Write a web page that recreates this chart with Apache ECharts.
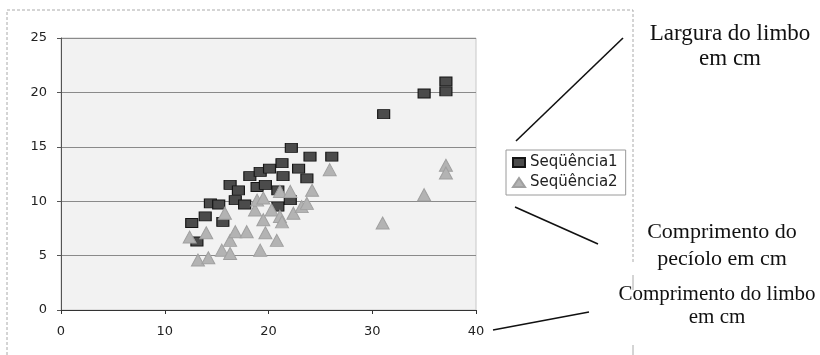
<!DOCTYPE html>
<html><head><meta charset="utf-8">
<script src="https://cdn.jsdelivr.net/npm/echarts@6/dist/echarts.min.js"></script>
<style>html,body{margin:0;padding:0;background:#fff}#c{width:820px;height:355px}</style>
</head><body><div id="c"></div>
<script>
var seriesNames = ['Seqüência1', 'Seqüência2'];
var xTicks = [0, 10, 20, 30, 40];
var yTicks = [0, 5, 10, 15, 20, 25];
var seq1X = [12.6, 13.1, 13.9, 14.4, 15.2, 15.6, 16.3, 16.8, 17.1, 17.7, 18.2, 18.9, 19.2, 19.7, 20.1, 20.9, 20.9, 21.3, 21.4, 22.1, 22.2, 22.9, 23.7, 24.0, 26.1, 31.1, 35.0, 37.1, 37.1];
var seq1Y = [8.0, 6.3, 8.6, 9.8, 9.7, 8.1, 11.5, 10.1, 11.0, 9.7, 12.3, 11.3, 12.7, 11.5, 13.0, 11.0, 9.5, 13.5, 12.3, 10.1, 14.9, 13.0, 12.1, 14.1, 14.1, 18.0, 19.9, 21.0, 20.1];
var seq2X = [12.4, 13.2, 14.0, 14.2, 15.5, 15.8, 16.3, 16.3, 16.8, 17.9, 18.7, 18.9, 19.2, 19.5, 19.5, 19.7, 20.3, 20.8, 21.1, 21.1, 21.3, 22.1, 22.4, 23.2, 23.7, 24.2, 25.9, 31.0, 35.0, 37.1, 37.1];
var seq2Y = [6.7, 4.6, 7.1, 4.8, 5.5, 8.9, 6.4, 5.2, 7.2, 7.2, 9.2, 10.1, 5.5, 10.3, 8.3, 7.1, 9.2, 6.4, 10.9, 8.6, 8.1, 10.9, 8.9, 9.5, 9.8, 11.0, 12.9, 8.0, 10.6, 13.3, 12.6];
var notes = [['Largura do limbo', 'em cm'], ['Comprimento do', 'pecíolo em cm'], ['Comprimento do limbo', 'em cm']];

function pairs(xs, ys) { return xs.map(function (x, i) { return [x, ys[i]]; }); }

var chart = echarts.init(document.getElementById('c'), null, { renderer: 'canvas' });
var serifFont = '"Liberation Serif", "Times New Roman", serif';
var sansFont = '"DejaVu Sans", Arial, sans-serif';
function note(i, cx, y, size, lh) {
  return { type: 'text', position: [cx, y],
    style: { text: notes[i][0] + '\n' + notes[i][1], textAlign: 'center', textVerticalAlign: 'top', font: size + 'px ' + serifFont, fill: '#111', lineHeight: lh } };
}
chart.setOption({
  animation: false,
  backgroundColor: '#fff',
  grid: { left: 61, right: 344, top: 38, bottom: 45, show: true, backgroundColor: '#f2f2f2', borderColor: '#c8c8c8', borderWidth: 1 },
  xAxis: {
    type: 'value', min: xTicks[0], max: xTicks[xTicks.length - 1], interval: 10,
    axisLine: { show: true, lineStyle: { color: '#333', width: 1 } },
    axisTick: { show: true, length: 4, lineStyle: { color: '#333' } },
    axisLabel: { color: '#222', fontSize: 13, fontFamily: sansFont, margin: 15 },
    splitLine: { show: false }
  },
  yAxis: {
    type: 'value', min: yTicks[0], max: yTicks[yTicks.length - 1], interval: 5,
    axisLine: { show: true, onZero: false, lineStyle: { color: '#555', width: 1 } },
    axisTick: { show: true, length: 4, lineStyle: { color: '#555' } },
    axisLabel: { color: '#222', fontSize: 13, fontFamily: sansFont, margin: 14 },
    splitLine: { show: true, lineStyle: { color: '#8a8a8a', width: 1 } }
  },
  legend: {
    orient: 'vertical', left: 506, top: 150,
    backgroundColor: '#fff', borderColor: '#9a9a9a', borderWidth: 1,
    padding: [5, 8, 5, 6], itemGap: 5, itemWidth: 12, itemHeight: 9,
    textStyle: { color: '#222', fontSize: 15, fontFamily: sansFont },
    data: [{ name: seriesNames[0], icon: 'rect' }, { name: seriesNames[1], icon: 'triangle' }]
  },
  series: [
    { name: seriesNames[0], type: 'scatter', data: pairs(seq1X, seq1Y), symbol: 'rect', symbolSize: [12, 9],
      itemStyle: { color: '#4b4b4b', borderColor: '#151515', borderWidth: 1, opacity: 1 }, z: 2 },
    { name: seriesNames[1], type: 'scatter', data: pairs(seq2X, seq2Y), symbol: 'triangle', symbolSize: [13, 12],
      itemStyle: { color: '#b3b3b3', borderColor: '#a0a0a0', borderWidth: 1, opacity: 1 }, z: 3 }
  ],
  graphic: [
    { type: 'polyline', shape: { points: [[7, 355], [7, 10], [633, 10], [633, 262]] }, style: { stroke: '#aaa', lineWidth: 1, lineDash: [3, 2], fill: null } },
    { type: 'line', shape: { x1: 633, y1: 275, x2: 633, y2: 290 }, style: { stroke: '#aaa', lineWidth: 1 } },
    { type: 'line', shape: { x1: 633, y1: 345, x2: 633, y2: 355 }, style: { stroke: '#aaa', lineWidth: 1 } },
    { type: 'line', shape: { x1: 516, y1: 141, x2: 623, y2: 38 }, style: { stroke: '#111', lineWidth: 1.6 } },
    { type: 'line', shape: { x1: 515, y1: 207, x2: 598, y2: 244 }, style: { stroke: '#111', lineWidth: 1.6 } },
    { type: 'line', shape: { x1: 493, y1: 330, x2: 589, y2: 312 }, style: { stroke: '#111', lineWidth: 1.6 } },
    note(0, 730, 21, 23, 25),
    note(1, 722, 219, 22, 27),
    note(2, 717, 283, 21, 23)
  ]
});
</script></body></html>
